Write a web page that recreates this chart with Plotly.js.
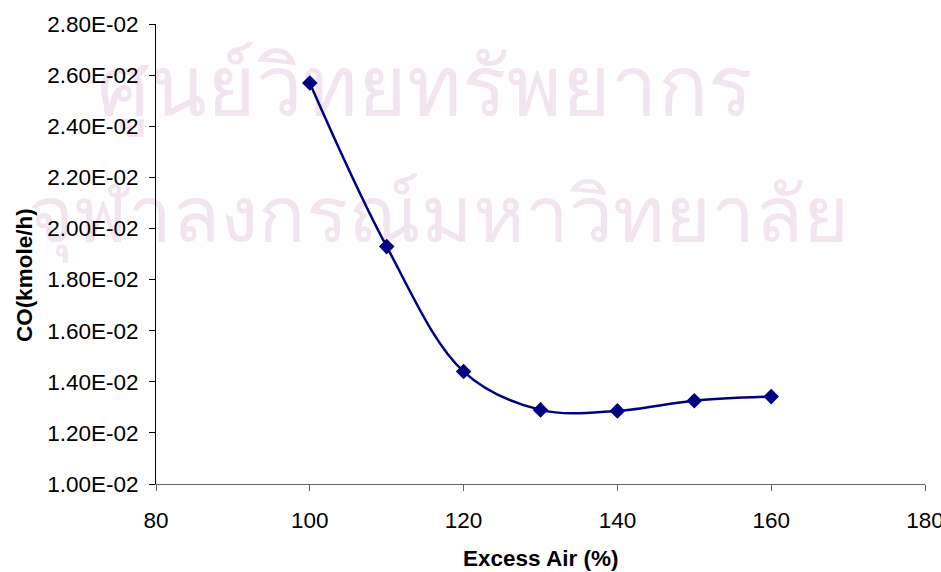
<!DOCTYPE html>
<html>
<head>
<meta charset="utf-8">
<script src="https://cdn.plot.ly/plotly-3.0.1.min.js"></script>
<style>html,body{margin:0;padding:0;background:#fff;}#chart{width:941px;height:572px;}</style>
</head>
<body>
<div id="chart"></div>
<script>
const excessAir = [100, 110, 120, 130, 140, 150, 160];
const coFlow = [0.02569, 0.01929, 0.01440, 0.01290, 0.01286, 0.01326, 0.01342];
const yTickVals = [0.010, 0.012, 0.014, 0.016, 0.018, 0.020, 0.022, 0.024, 0.026, 0.028];
const yTickText = ["1.00E-02", "1.20E-02", "1.40E-02", "1.60E-02", "1.80E-02", "2.00E-02", "2.20E-02", "2.40E-02", "2.60E-02", "2.80E-02"];
const xTickVals = [80, 100, 120, 140, 160, 180];
const watermarkLines = ["ศูนย์วิทยทรัพยากร", "จุฬาลงกรณ์มหาวิทยาลัย"];
const xTitle = "Excess Air (%)";
const yTitle = "CO(kmole/h)";

const trace = {
  x: excessAir,
  y: coFlow,
  type: "scatter",
  mode: "lines+markers",
  line: {color: "#000080", width: 2.5, shape: "spline", smoothing: 1},
  marker: {symbol: "diamond", size: 12, color: "#000080"},
  showlegend: false,
  hoverinfo: "x+y"
};

const font = "Liberation Sans, Arial, sans-serif";
const wmFamily = "Noto Sans, DejaVu Sans, sans-serif";
const wmColor = "#f2e5ef";

const layout = {
  width: 941, height: 572,
  margin: {l: 156, r: 16, t: 24, b: 88},
  paper_bgcolor: "#ffffff", plot_bgcolor: "rgba(0,0,0,0)",
  font: {family: font, size: 22.5, color: "#000"},
  xaxis: {
    range: [80, 180], tickvals: xTickVals, ticktext: xTickVals.map(String),
    showgrid: false, zeroline: false, showline: true, linecolor: "#666", linewidth: 1,
    ticks: "outside", ticklen: 6, tickcolor: "#666", tickwidth: 1,
    ticklabelstandoff: 10, ticklabeloverflow: "allow",
    tickfont: {family: font, size: 22.5, color: "#000"}
  },
  yaxis: {
    range: [0.010, 0.028], tickvals: yTickVals, ticktext: yTickText,
    showgrid: false, zeroline: false, showline: true, linecolor: "#000", linewidth: 1,
    ticks: "outside", ticklen: 6, tickcolor: "#000", tickwidth: 1,
    ticklabelstandoff: 6, ticklabeloverflow: "allow",
    tickfont: {family: font, size: 22.5, color: "#000"}
  },
  annotations: [
    {text: yTitle, xref: "paper", yref: "paper", x: -0.1717, y: 0.454,
     xanchor: "center", yanchor: "middle", textangle: -90, showarrow: false,
     font: {family: font, size: 22.5, color: "#000", weight: "bold"}},
    {text: xTitle, xref: "paper", yref: "paper", x: 0.5, y: -0.162,
     xanchor: "center", yanchor: "middle", showarrow: false,
     font: {family: font, size: 22.5, color: "#000", weight: "bold"}}
  ],
  shapes: [
    {type: "rect", xref: "paper", yref: "paper", x0: -0.1, x1: 0.8, y0: 0.80, y1: 0.92,
     layer: "below", line: {width: 0}, fillcolor: "rgba(0,0,0,0)",
     label: {text: watermarkLines[0], textposition: "middle center",
             font: {family: wmFamily, size: 83, color: wmColor}}},
    {type: "rect", xref: "paper", yref: "paper", x0: -0.366, x1: 1.1, y0: 0.52, y1: 0.64,
     layer: "below", line: {width: 0}, fillcolor: "rgba(0,0,0,0)",
     label: {text: watermarkLines[1], textposition: "middle center",
             font: {family: wmFamily, size: 78.5, color: wmColor}}}
  ]
};

Plotly.newPlot("chart", [trace], layout, {displayModeBar: false, staticPlot: true});
</script>
</body>
</html>
